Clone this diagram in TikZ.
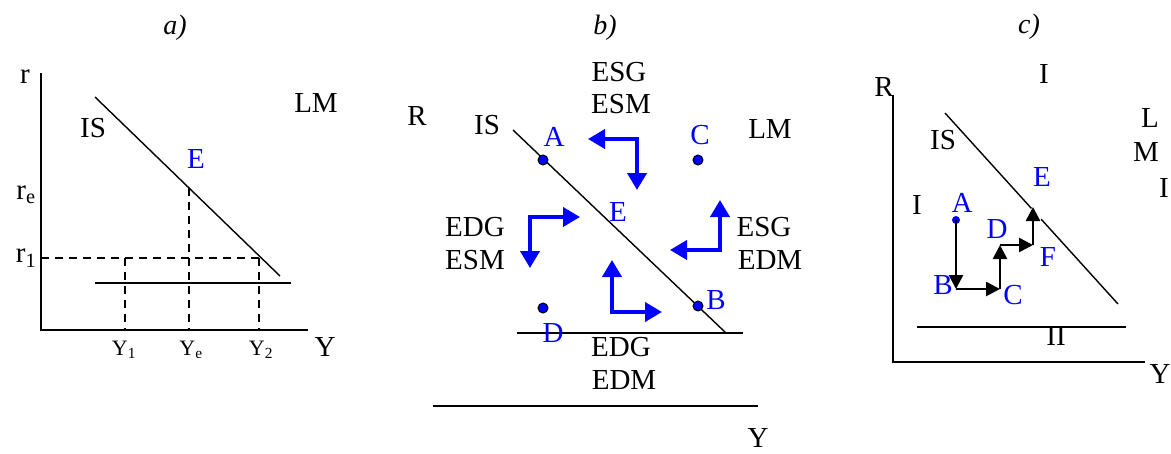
\documentclass[tikz,border=0pt]{standalone}
\usepackage{fontspec}
\setmainfont{Liberation Serif}
\usetikzlibrary{arrows.meta}
\definecolor{pblue}{RGB}{0,0,255}
\begin{document}
\begin{tikzpicture}[x=1pt,y=-1pt,
  lbl/.style={inner sep=0pt,font=\fontsize{29}{32}\selectfont},
  sml/.style={inner sep=0pt,font=\fontsize{22}{24}\selectfont},
  ttl/.style={inner sep=0pt,font=\fontsize{28}{30}\selectfont\itshape},
  blbl/.style={lbl,text=pblue},
  axis/.style={line width=1.8pt},
  curve/.style={line width=1.4pt},
  dashln/.style={line width=1.4pt,dash pattern=on 8pt off 6pt},
  barrow/.style={line width=4pt,pblue,line join=miter,{Triangle[length=17pt,width=19pt]}-{Triangle[length=17pt,width=19pt]}},
  karrow/.style={line width=2.6pt,black,-{Triangle[length=14pt,width=14pt]}},
  dotb/.style={circle,fill=pblue,draw=black,line width=1pt,inner sep=0pt,minimum size=10pt},
]
\useasboundingbox (0,0) rectangle (1171,453);
% ---------- panel a ----------
\node[ttl] (ta) at (175,28) {a)};
\coordinate (aO) at (41,330);
\coordinate (aT) at (41,73);
\coordinate (aR) at (308,330);
\draw[axis] (aT) -- (aO) -- (aR);
\node[lbl] (ar) at (25,77) {r};
\coordinate (aIS1) at (95,97);
\coordinate (aIS2) at (280,276);
\draw[curve] (aIS1) -- (aIS2);
\node[lbl] (aIS) at (93,128) {IS};
\node[lbl] (aLM) at (316,103) {LM};
\node[blbl] (aE) at (196,159) {E};
\node[lbl] (are) at (26,195) {r\textsubscript{e}};
\node[lbl] (ar1) at (26,258) {r\textsubscript{1}};
\coordinate (aL1) at (95,283);
\coordinate (aL2) at (291,283);
\draw[curve] (aL1) -- (aL2);
\coordinate (ar1s) at (41,258);
\coordinate (ar1e) at (260,258);
\draw[dashln] (ar1s) -- (ar1e);
\coordinate (ay1t) at (125,258); \coordinate (ay1b) at (125,330);
\coordinate (ayet) at (189,188); \coordinate (ayeb) at (189,330);
\coordinate (ay2t) at (259,258); \coordinate (ay2b) at (259,330);
\draw[dashln] (ay1t) -- (ay1b);
\draw[dashln] (ayet) -- (ayeb);
\draw[dashln] (ay2t) -- (ay2b);
\node[sml] (aY1) at (124,350) {Y\textsubscript{1}};
\node[sml] (aYe) at (191,350) {Y\textsubscript{e}};
\node[sml] (aY2) at (261,350) {Y\textsubscript{2}};
\node[lbl] (aY) at (325,347) {Y};
% ---------- panel b ----------
\node[ttl] (tb) at (605,28) {b)};
\node[lbl] (bESG) at (619,72) {ESG};
\node[lbl] (bESM) at (621,104) {ESM};
\node[lbl] (bR) at (417,116) {R};
\node[lbl] (bIS) at (487,125) {IS};
\node[lbl] (bLM) at (770,129) {LM};
\coordinate (bIS1) at (513,130);
\coordinate (bIS2) at (726,333);
\draw[curve] (bIS1) -- (bIS2);
\coordinate (bL1) at (517,333);
\coordinate (bL2) at (743,333);
\draw[curve] (bL1) -- (bL2);
\coordinate (bX1) at (433,406);
\coordinate (bX2) at (758,406);
\draw[curve] (bX1) -- (bX2);
\node[lbl] (bY) at (758,438) {Y};
\node[dotb] (bA) at (543,160) {};
\node[dotb] (bC) at (698,160) {};
\node[dotb] (bB) at (698,306) {};
\node[dotb] (bD) at (543,308) {};
\node[blbl] (bAl) at (554,137) {A};
\node[blbl] (bCl) at (700,135) {C};
\node[blbl] (bBl) at (716,300) {B};
\node[blbl] (bDl) at (553,333) {D};
\node[blbl] (bEl) at (618,212) {E};
\node[lbl] (bEDGl) at (475,227) {EDG};
\node[lbl] (bESMl) at (475,260) {ESM};
\node[lbl] (bESGr) at (764,227) {ESG};
\node[lbl] (bEDMr) at (770,260) {EDM};
\node[lbl] (bEDGb) at (621,347) {EDG};
\node[lbl] (bEDMb) at (624,380) {EDM};
% blue arrows
\coordinate (u1) at (588,139); \coordinate (u2) at (637,139); \coordinate (u3) at (637,190);
\draw[barrow] (u1) -- (u2) -- (u3);
\coordinate (l1) at (580,217); \coordinate (l2) at (530,217); \coordinate (l3) at (530,268);
\draw[barrow] (l1) -- (l2) -- (l3);
\coordinate (r1) at (720,200); \coordinate (r2) at (720,250); \coordinate (r3) at (670,250);
\draw[barrow] (r1) -- (r2) -- (r3);
\coordinate (d1) at (612,260); \coordinate (d2) at (612,312); \coordinate (d3) at (662,312);
\draw[barrow] (d1) -- (d2) -- (d3);
% ---------- panel c ----------
\node[ttl] (tc) at (1029,27) {c)};
\node[lbl] (cI1) at (1044,74) {I};
\node[lbl] (cR) at (884,87) {R};
\coordinate (cT) at (893,95);
\coordinate (cO) at (893,362);
\coordinate (cRr) at (1145,362);
\draw[axis] (cT) -- (cO) -- (cRr);
\node[lbl] (cY) at (1160,374) {Y};
\node[lbl] (cL) at (1150,118) {L};
\node[lbl] (cM) at (1146,152) {M};
\node[lbl] (cI3) at (1164,188) {I};
\coordinate (cIS1) at (945,113);
\coordinate (cIS2) at (1118,304);
\draw[curve] (cIS1) -- (cIS2);
\coordinate (cg1) at (1031,209);
\coordinate (cg2) at (1041,219);
\draw[white,line width=4pt] (cg1) -- (cg2);
\node[lbl] (cIS) at (943,140) {IS};
\node[blbl] (cEl) at (1042,177) {E};
\node[lbl] (cI2) at (917,205) {I};
\node[blbl] (cAl) at (962,203) {A};
\node[circle,fill=pblue,inner sep=0pt,minimum size=8pt] (cA) at (956,220) {};
\coordinate (cB) at (956,289);
\coordinate (cC) at (1000,289);
\coordinate (cD0) at (1000,245);
\coordinate (cF) at (1033,245);
\coordinate (cE) at (1033,207);
\draw[karrow] (cA.center) -- (cB);
\draw[karrow] (cB) -- (cC);
\draw[karrow] (cC) -- (cD0);
\draw[karrow] (cD0) -- (cF);
\draw[karrow] (cF) -- (cE);
\node[blbl] (cBl) at (943,285) {B};
\node[blbl] (cCl) at (1013,295) {C};
\node[blbl] (cDl) at (997,229) {D};
\node[blbl] (cFl) at (1048,257) {F};
\coordinate (cL1) at (917,327);
\coordinate (cL2) at (1126,327);
\draw[curve] (cL1) -- (cL2);
\node[lbl] (cII) at (1056,336) {II};
\end{tikzpicture}
\end{document}
